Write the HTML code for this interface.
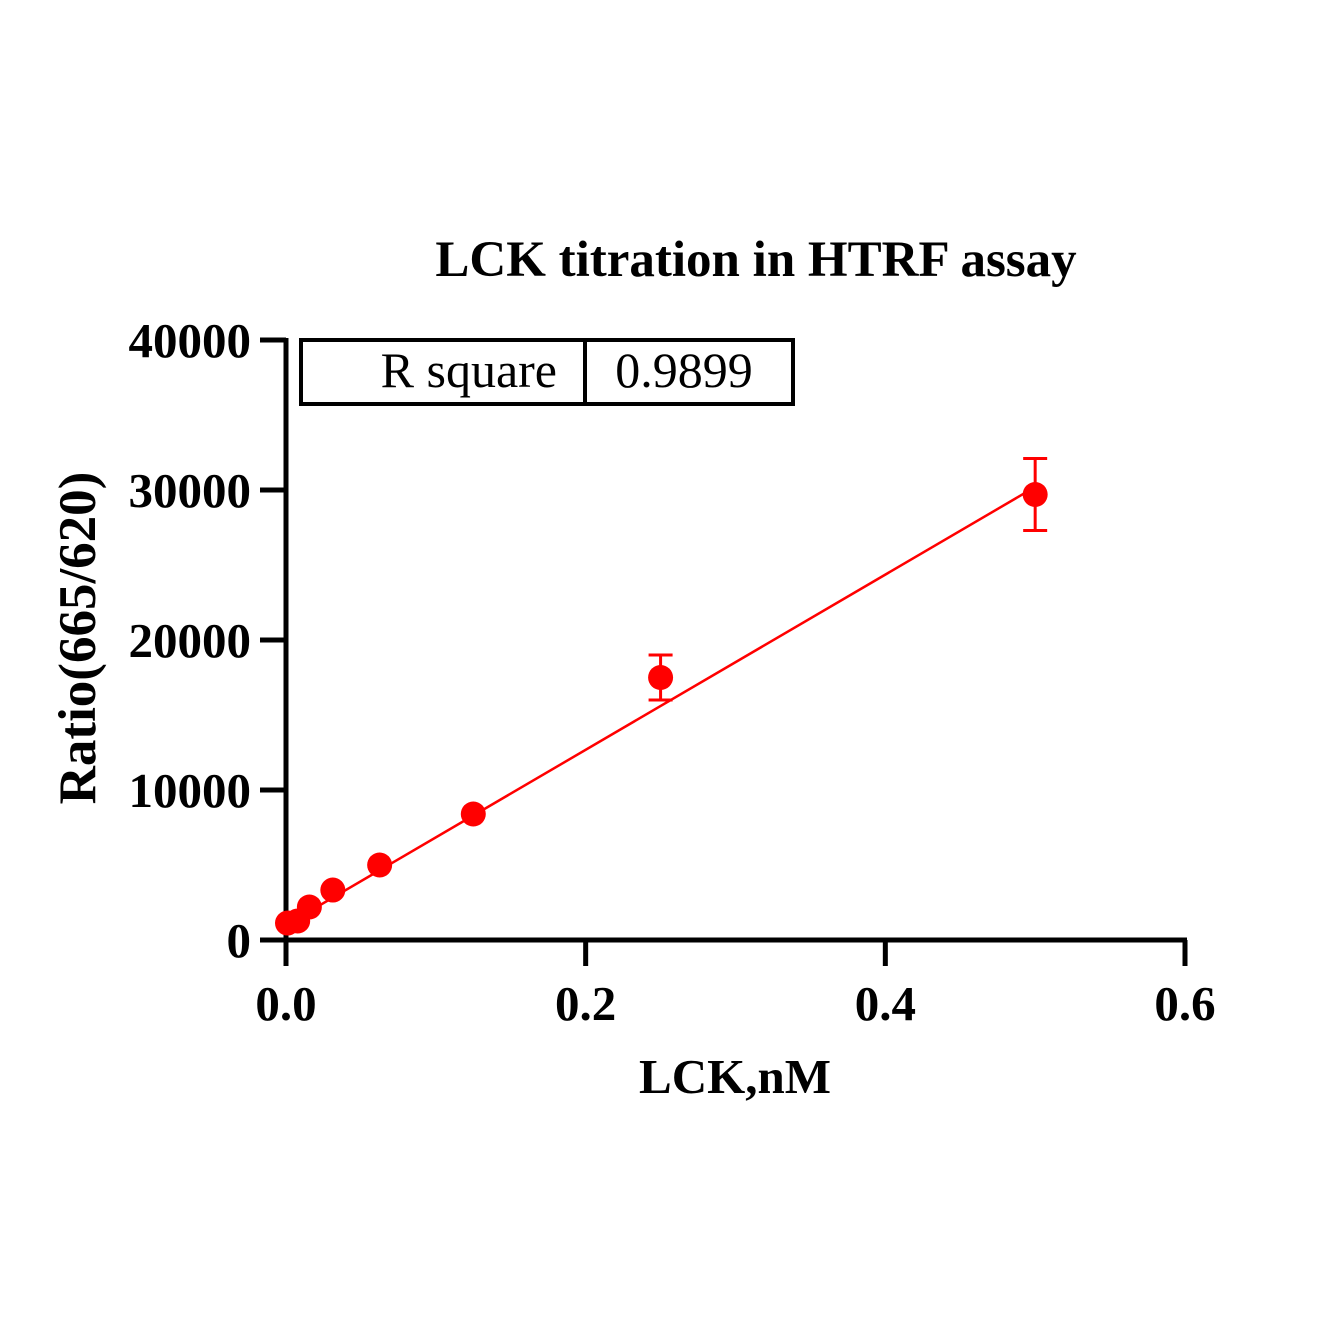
<!DOCTYPE html>
<html><head><meta charset="utf-8"><style>
html,body{margin:0;padding:0;background:#fff}
svg text{font-family:"Liberation Serif",serif;font-weight:bold;fill:#000}
</style></head><body>
<svg width="1337" height="1337" viewBox="0 0 1337 1337">
<rect width="1337" height="1337" fill="#fff"/>
<text x="756" y="276" font-size="51" text-anchor="middle">LCK titration in HTRF assay</text>
<g id="axes"></g>
<g id="marks"></g>
<g>
<rect x="301" y="340" width="492" height="64" fill="none" stroke="#000" stroke-width="4"/>
<line x1="585" y1="340" x2="585" y2="404" stroke="#000" stroke-width="4"/>
<text x="557" y="387" font-size="50" style="font-weight:normal" text-anchor="end">R square</text>
<text x="684" y="387" font-size="50" style="font-weight:normal" text-anchor="middle">0.9899</text>
</g>
<text x="735" y="1093" font-size="49" text-anchor="middle">LCK,nM</text>
<text transform="translate(95,638) rotate(-90)" font-size="53" text-anchor="middle">Ratio(665/620)</text>
</svg>
<script>
const xVals=[0.001,0.0078,0.0156,0.03125,0.0625,0.125,0.25,0.5];
const yVals=[1130,1270,2200,3330,5000,8400,17500,29700];
const yErr=[0,0,0,0,0,0,1500,2400];
const xTicks=[0,0.2,0.4,0.6];
const xTickLabels=["0.0","0.2","0.4","0.6"];
const yTicks=[0,10000,20000,30000,40000];
const yTickLabels=["0","10000","20000","30000","40000"];
const fitIntercept=1000, fitSlope=58400, fitRange=[0,0.5];
const NS="http://www.w3.org/2000/svg";
const X=v=>286+v*(1185-286)/0.6;
const Y=v=>940-v*(600/40000);
function mk(t,a,p){const e=document.createElementNS(NS,t);for(const k in a)e.setAttribute(k,a[k]);p.appendChild(e);return e;}
const ax=document.getElementById('axes'),mg=document.getElementById('marks');
let e=mk('line',{x1:286,y1:338,x2:286,y2:942,stroke:'#000','stroke-width':5},ax);


e=mk('line',{x1:284,y1:940,x2:1187,y2:940,stroke:'#000','stroke-width':5},ax);


yTicks.forEach((v,i)=>{
 let t=mk('line',{x1:260,y1:Y(v),x2:286,y2:Y(v),stroke:'#000','stroke-width':5},ax);
 
 
 let l=mk('text',{x:251,y:Y(v)+17,'font-size':49,'text-anchor':'end'},ax);
 l.textContent=yTickLabels[i];
 
 
});
xTicks.forEach((v,i)=>{
 let t=mk('line',{x1:X(v),y1:940,x2:X(v),y2:966,stroke:'#000','stroke-width':5},ax);
 
 
 let l=mk('text',{x:X(v),y:1020,'font-size':49,'text-anchor':'middle'},ax);
 l.textContent=xTickLabels[i];
 
 
});
e=mk('line',{x1:X(fitRange[0]),y1:Y(fitIntercept+fitSlope*fitRange[0]),x2:X(fitRange[1]),y2:Y(fitIntercept+fitSlope*fitRange[1]),stroke:'#f00','stroke-width':2.5},mg);


xVals.forEach((xv,i)=>{
 const cx=X(xv),cy=Y(yVals[i]);
 if(yErr[i]>0){
  const t=Y(yVals[i]+yErr[i]),b=Y(yVals[i]-yErr[i]);
  let g=mk('path',{d:`M${cx},${t}V${b}M${cx-12},${t}H${cx+12}M${cx-12},${b}H${cx+12}`,stroke:'#f00','stroke-width':3,fill:'none'},mg);
  
  
 }
 let c=mk('circle',{cx:cx,cy:cy,r:12.5,fill:'#f00'},mg);
 
 
});
</script>
</body></html>
